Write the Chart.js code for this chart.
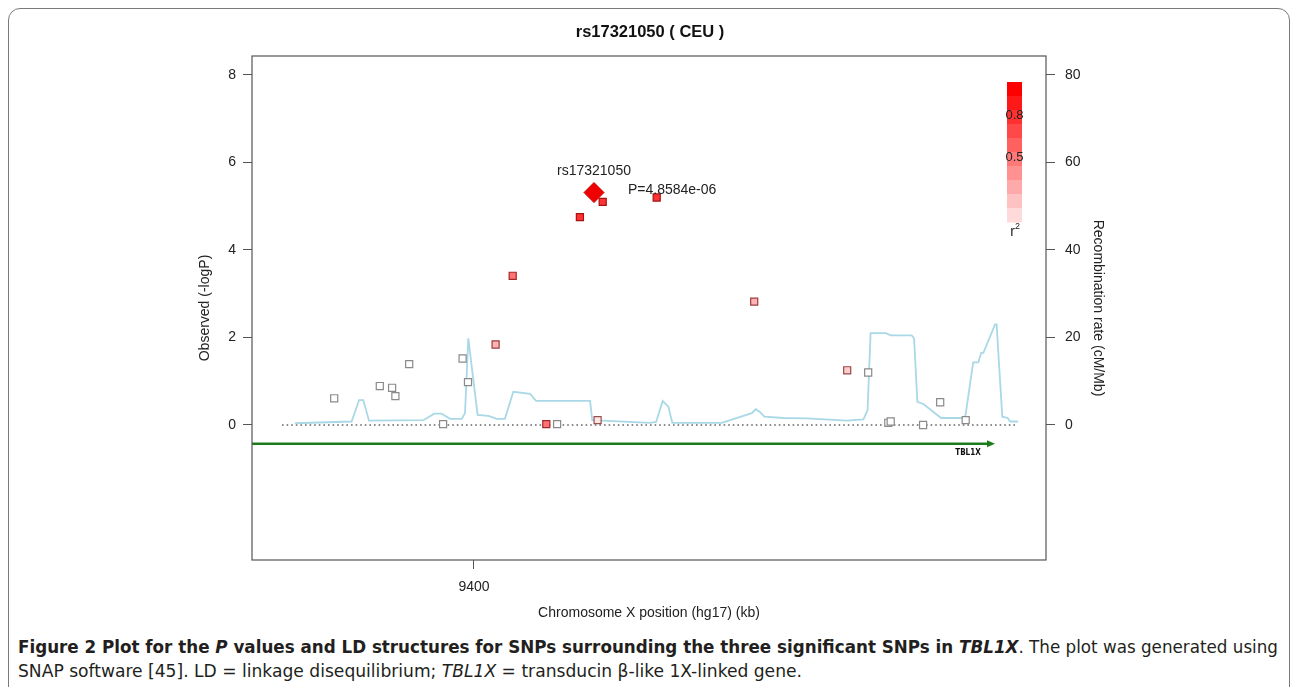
<!DOCTYPE html>
<html>
<head>
<meta charset="utf-8">
<script src="https://cdn.jsdelivr.net/npm/chart.js@4.4.0/dist/chart.umd.min.js"></script>
<style>
  body { margin: 0; background: #fff; width: 1296px; height: 687px; overflow: hidden; position: relative; font-family: "Liberation Sans", Arial, sans-serif; }
  #frame { position: absolute; left: 8px; top: 8px; width: 1280px; height: 700px; border: 1.5px solid #7a7a7a; border-radius: 12px; }
  #wrap { position: absolute; left: 0; top: 0; width: 1296px; height: 630px; }
  .cap { position: absolute; left: 18px; white-space: nowrap; font-family: "Liberation Sans Narrow", "DejaVu Sans Condensed", sans-serif; font-size: 18px; color: #231f20; transform-origin: 0 50%; }
</style>
</head>
<body>
<div id="frame"></div>
<div id="wrap"><canvas id="chart-snap"></canvas></div>
<div class="cap" id="cap1" style="top:636px"><b>Figure 2 Plot for the <i>P</i> values and LD structures for SNPs surrounding the three significant SNPs in <i>TBL1X</i></b>. The plot was generated using</div>
<div class="cap" id="cap2" style="top:660px">SNAP software [45]. LD = linkage disequilibrium; <i>TBL1X</i> = transducin &beta;-like 1X-linked gene.</div>
<script>
// SNPs around the lead SNP (position kb, -log10 P, r2 with lead SNP)
const snpPos  = [9353.4, 9368.6, 9372.7, 9373.8, 9378.4, 9389.7, 9396.2, 9398.0, 9407.2, 9412.9,
                 9424.1, 9427.7, 9435.3, 9441.2, 9442.9, 9460.9, 9493.4, 9524.4, 9531.4, 9538.1,
                 9538.9, 9549.7, 9555.4, 9563.9];
const snpLogP = [0.61, 0.89, 0.85, 0.66, 1.39, 0.02, 1.52, 0.98, 1.84, 3.41,
                 0.02, 0.02, 4.75, 0.11, 5.10, 5.20, 2.82, 1.25, 1.20, 0.05,
                 0.08, 0.00, 0.52, 0.11];
const snpR2   = [0, 0, 0, 0, 0, 0, 0, 0, 0.3, 0.55,
                 0.55, 0, 0.8, 0.1, 0.8, 0.8, 0.3, 0.2, 0, 0,
                 0, 0, 0, 0];

// lead SNP
const leadName = 'rs17321050';
const leadPos = 9440.0;
const leadLogP = 5.313;
const leadP = 'P=4.8584e-06';

// recombination rate (cM/Mb)
const recombPos  = [9340.3, 9359.2, 9361.7, 9363.1, 9365.0, 9383.1, 9386.8, 9389.2, 9392.0, 9395.9,
                    9397.0, 9398.1, 9401.2, 9404.8, 9407.6, 9410.3, 9413.1, 9418.7, 9420.7, 9438.7,
                    9439.4, 9458.7, 9460.7, 9462.9, 9464.8, 9466.1, 9482.6, 9492.6, 9493.9, 9495.3,
                    9496.8, 9503.1, 9510.9, 9524.2, 9529.8, 9531.2, 9532.2, 9537.3, 9538.9, 9545.9,
                    9546.7, 9547.8, 9549.8, 9555.7, 9563.7, 9566.4, 9568.1, 9569.1, 9569.8, 9573.7,
                    9574.2, 9576.1, 9577.9, 9578.7, 9581.4];
const recombRate = [0.4, 0.8, 5.7, 5.7, 1.0, 1.1, 2.6, 2.6, 1.4, 1.4,
                    2.7, 19.8, 2.3, 2.1, 1.4, 1.4, 7.6, 7.1, 5.5, 5.5,
                    1.1, 0.5, 0.7, 5.5, 4.2, 0.5, 0.5, 2.7, 3.6, 3.0,
                    1.9, 1.6, 1.5, 1.0, 1.3, 3.4, 21.0, 21.0, 20.5, 20.5,
                    19.8, 5.3, 4.8, 1.6, 1.6, 14.3, 14.3, 16.5, 16.5, 23.0,
                    23.0, 1.9, 1.6, 0.8, 0.8];

// gene track and baseline
const geneName = 'TBL1X';
const geneStart = 9326;
const geneEnd = 9572;
const geneLevel = -0.43;
const baseStart = 9336;
const baseEnd = 9581.3;

// axes
const xMin = 9326, xMax = 9590.67;
const yMin = -3.0857, yMax = 8.434;
const xTicks = [9400];
const yTicks = [0, 2, 4, 6, 8];
const y2Ticks = [0, 20, 40, 60, 80];
const legendLabels = ['0.8', '0.5'];

function r2Fill(r) {
    const v = Math.round(255 * (1 - r));
    return 'rgb(255,' + v + ',' + v + ')';
}
function r2Border(r) {
    if (r === 0) return '#8a8a8a';
    return 'rgb(' + Math.round(150 + 20 * r) + ',' + Math.round(90 * (1 - r)) + ',' + Math.round(90 * (1 - r)) + ')';
}

const snpPoints = snpPos.map((p, i) => ({ x: p, y: snpLogP[i] }));
const recombPoints = recombPos.map((p, i) => ({ x: p, y: recombRate[i] }));

const FONT = '"Liberation Sans", Arial, sans-serif';

// title, frame box, labels, gene arrow and r2 key
const decorPlugin = {
    id: 'decor',
    afterDraw(chart) {
        const { ctx, chartArea: a, scales } = chart;
        ctx.save();
        ctx.strokeStyle = '#555';
        ctx.lineWidth = 1.2;
        ctx.strokeRect(a.left, a.top, a.right - a.left, a.bottom - a.top);

        ctx.fillStyle = '#111';
        ctx.font = 'bold 16.5px ' + FONT;
        ctx.textAlign = 'center';
        ctx.textBaseline = 'middle';
        ctx.fillText(leadName + ' ( CEU )', 650, 32);

        // lead SNP labels
        const lx = scales.x.getPixelForValue(leadPos);
        const ly = scales.y.getPixelForValue(leadLogP);
        ctx.font = '14px ' + FONT;
        ctx.fillStyle = '#222';
        ctx.fillText(leadName, lx, ly - 21);
        ctx.textAlign = 'left';
        ctx.fillText(leadP, lx + 34, ly - 2);

        // gene arrow head + name
        const gx = scales.x.getPixelForValue(geneEnd);
        const gy = scales.y.getPixelForValue(geneLevel);
        ctx.fillStyle = '#1c7c1c';
        ctx.beginPath();
        ctx.moveTo(gx + 5, gy);
        ctx.lineTo(gx - 3, gy - 3.5);
        ctx.lineTo(gx - 3, gy + 3.5);
        ctx.closePath();
        ctx.fill();
        ctx.fillStyle = '#111';
        ctx.font = 'bold 8px "DejaVu Sans Condensed", ' + FONT;
        ctx.textAlign = 'center';
        ctx.fillText(geneName, gx - 22, gy + 9);

        // r2 key
        const kx = 1007, ky = 82, kw = 15, kh = 140, n = 10;
        for (let i = 0; i < n; i++) {
            ctx.fillStyle = r2Fill(1 - i * 0.1 * 0.95);
            ctx.fillRect(kx, ky + i * kh / n, kw, kh / n + 0.5);
        }
        ctx.fillStyle = '#222';
        ctx.font = '13px ' + FONT;
        ctx.textAlign = 'center';
        ctx.fillText(legendLabels[0], kx + kw / 2, 115);
        ctx.fillText(legendLabels[1], kx + kw / 2, 157);
        ctx.font = '14px ' + FONT;
        ctx.fillText('r', kx + kw / 2 - 2, 232);
        ctx.font = '9px ' + FONT;
        ctx.fillText('2', kx + kw / 2 + 3, 227);
        ctx.restore();
    }
};

const tickFont = { family: FONT, size: 14 };
const gridOpts = { display: true, drawOnChartArea: false, drawTicks: true, tickLength: 9, color: '#555', lineWidth: 1 };

new Chart(document.getElementById('chart-snap'), {
    type: 'scatter',
    data: {
        datasets: [{
            label: 'SNPs',
            data: snpPoints,
            yAxisID: 'y',
            pointStyle: 'rect',
            pointRadius: 5,
            pointHoverRadius: 5,
            backgroundColor: snpR2.map(r2Fill),
            borderColor: snpR2.map(r2Border),
            borderWidth: 1.2,
            order: 1
        }, {
            label: leadName,
            data: [{ x: leadPos, y: leadLogP }],
            yAxisID: 'y',
            pointStyle: 'rectRot',
            pointRadius: 10,
            pointHoverRadius: 10,
            backgroundColor: '#f00000',
            borderColor: '#c00000',
            borderWidth: 1,
            order: 0
        }, {
            type: 'line',
            label: 'Recombination rate',
            data: recombPoints,
            yAxisID: 'y2',
            borderColor: '#a9d8e6',
            borderWidth: 1.8,
            pointRadius: 0,
            tension: 0,
            order: 3
        }, {
            type: 'line',
            label: 'baseline',
            data: [{ x: baseStart, y: 0 }, { x: baseEnd, y: 0 }],
            yAxisID: 'y',
            borderColor: '#666',
            borderWidth: 1.6,
            borderDash: [1.6, 3],
            pointRadius: 0,
            order: 4
        }, {
            type: 'line',
            label: geneName,
            data: [{ x: geneStart, y: geneLevel }, { x: geneEnd, y: geneLevel }],
            yAxisID: 'y',
            borderColor: '#1c7c1c',
            borderWidth: 2.5,
            pointRadius: 0,
            order: 2
        }]
    },
    options: {
        responsive: true,
        maintainAspectRatio: false,
        animation: false,
        layout: { padding: { top: 56, left: 0, right: 0, bottom: 0 } },
        plugins: {
            legend: { display: false },
            tooltip: { enabled: false }
        },
        scales: {
            x: {
                type: 'linear',
                min: xMin,
                max: xMax,
                afterBuildTicks: s => { s.ticks = xTicks.map(v => ({ value: v })); },
                afterFit: s => { s.height = 70; },
                grid: gridOpts,
                border: { display: false },
                ticks: { font: tickFont, color: '#222', padding: 10, callback: v => String(v) },
                title: { display: true, text: 'Chromosome X position (hg17) (kb)', font: tickFont, color: '#222', padding: { top: 0, bottom: 8.6 } }
            },
            y: {
                position: 'left',
                min: yMin,
                max: yMax,
                afterBuildTicks: s => { s.ticks = yTicks.map(v => ({ value: v })); },
                afterFit: s => { s.width = 252; },
                grid: gridOpts,
                border: { display: false },
                ticks: { font: tickFont, color: '#222', padding: 7 },
                title: { display: true, text: 'Observed (-logP)', font: tickFont, color: '#222', padding: { top: 196.6, bottom: 0 } }
            },
            y2: {
                position: 'right',
                min: yMin * 10,
                max: yMax * 10,
                afterBuildTicks: s => { s.ticks = y2Ticks.map(v => ({ value: v })); },
                afterFit: s => { s.width = 250; },
                grid: gridOpts,
                border: { display: false },
                ticks: { font: tickFont, color: '#222', padding: 10 },
                title: { display: true, text: 'Recombination rate (cM/Mb)', font: tickFont, color: '#222', padding: { top: 189.6, bottom: 0 } }
            }
        }
    },
    plugins: [decorPlugin]
});

// fit caption lines to the reference widths
function fitLine(id, target) {
    const el = document.getElementById(id);
    const w = el.getBoundingClientRect().width;
    el.style.transform = 'scaleX(' + (target / w) + ')';
}
fitLine('cap1', 1260);
fitLine('cap2', 784);
</script>
</body>
</html>
